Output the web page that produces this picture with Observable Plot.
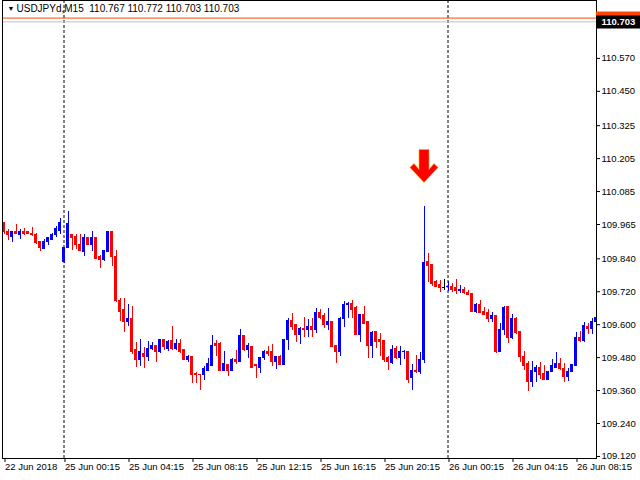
<!DOCTYPE html>
<html><head><meta charset="utf-8">
<script src="https://cdn.jsdelivr.net/npm/d3@7"></script>
<script src="https://cdn.jsdelivr.net/npm/@observablehq/plot@0.6"></script>
<style>
html,body{margin:0;padding:0;background:#fff;overflow:hidden;}
</style></head><body><div id="chart"></div>
<script>
const symbolName = "USDJPYd,M15";
const headerQuote = ["110.767", "110.772", "110.703", "110.703"];
const bidPrice = 110.703;
const askPrice = 110.717;

const open = [
109.969,109.939,109.921,109.939,109.928,109.939,109.936,109.932,109.928,109.900,
109.874,109.900,109.910,109.925,109.943,109.827,109.878,109.925,109.921,109.892,
109.866,109.914,109.892,109.914,109.845,109.837,109.866,109.936,109.848,109.688,
109.652,109.611,109.622,109.506,109.470,109.495,109.484,109.513,109.521,109.499,
109.543,109.510,109.539,109.510,109.528,109.506,109.473,109.481,109.422,109.418,
109.415,109.433,109.448,109.528,109.528,109.433,109.452,109.433,109.473,109.463,
109.557,109.506,109.517,109.452,109.444,109.477,109.499,109.499,109.463,109.481,
109.452,109.543,109.615,109.600,109.564,109.586,109.579,109.593,109.579,109.644,
109.630,109.600,109.611,109.521,109.499,109.622,109.670,109.677,109.659,109.564,
109.634,109.608,109.521,109.572,109.543,109.539,109.477,109.459,109.510,109.477,
109.499,109.502,109.404,109.433,109.426,109.470,109.827,109.816,109.754,109.743,
109.734,109.736,109.739,109.732,109.721,109.725,109.714,109.710,109.648,109.670,
109.648,109.644,109.619,109.630,109.502,109.579,109.663,109.550,109.622,109.572,
109.484,109.455,109.393,109.426,109.444,109.422,109.397,109.429,109.444,109.455,
109.440,109.411,109.429,109.448,109.553,109.539,109.593,109.586,109.608];

const high = [
109.973,109.947,109.939,109.965,109.947,109.951,109.939,109.954,109.932,109.903,
109.910,109.918,109.932,109.958,109.987,109.881,110.012,109.928,109.928,109.928,
109.928,109.918,109.939,109.918,109.852,109.870,109.939,109.936,109.870,109.696,
109.696,109.673,109.666,109.536,109.546,109.517,109.539,109.536,109.524,109.543,
109.546,109.543,109.593,109.546,109.546,109.506,109.488,109.481,109.426,109.418,
109.448,109.477,109.561,109.543,109.536,109.502,109.455,109.477,109.506,109.583,
109.557,109.532,109.517,109.455,109.481,109.506,109.521,109.528,109.484,109.488,
109.546,109.622,109.641,109.600,109.590,109.626,109.619,109.622,109.659,109.655,
109.641,109.659,109.611,109.521,109.626,109.685,109.681,109.688,109.666,109.637,
109.666,109.608,109.575,109.572,109.568,109.539,109.484,109.524,109.521,109.521,
109.506,109.502,109.455,109.488,109.499,110.030,109.859,109.816,109.761,109.761,
109.765,109.758,109.750,109.765,109.743,109.736,109.725,109.710,109.677,109.688,
109.663,109.655,109.644,109.630,109.604,109.666,109.666,109.637,109.626,109.572,
109.502,109.466,109.466,109.452,109.463,109.452,109.429,109.473,109.499,109.477,
109.459,109.440,109.455,109.572,109.575,109.608,109.604,109.622,109.681];

const low = [
109.928,109.907,109.900,109.932,109.910,109.925,109.928,109.921,109.892,109.866,
109.874,109.889,109.907,109.918,109.928,109.823,109.878,109.870,109.874,109.866,
109.848,109.889,109.866,109.837,109.804,109.830,109.866,109.812,109.681,109.611,
109.572,109.593,109.491,109.444,109.448,109.440,109.466,109.506,109.463,109.495,
109.506,109.502,109.506,109.506,109.495,109.470,109.463,109.386,109.386,109.360,
109.397,109.429,109.448,109.484,109.429,109.429,109.411,109.433,109.455,109.463,
109.502,109.477,109.444,109.404,109.422,109.470,109.484,109.448,109.437,109.452,
109.452,109.506,109.579,109.536,109.528,109.553,109.553,109.553,109.568,109.619,
109.586,109.579,109.517,109.459,109.484,109.590,109.622,109.622,109.561,109.536,
109.600,109.477,109.477,109.513,109.484,109.463,109.433,109.455,109.473,109.452,
109.473,109.386,109.360,109.422,109.418,109.459,109.754,109.739,109.739,109.718,
109.725,109.721,109.718,109.710,109.714,109.710,109.707,109.648,109.641,109.641,
109.637,109.608,109.608,109.495,109.502,109.561,109.532,109.546,109.564,109.463,
109.433,109.357,109.371,109.389,109.400,109.397,109.397,109.426,109.444,109.433,
109.389,109.393,109.426,109.448,109.536,109.536,109.564,109.564,109.597];

const close = [
109.936,109.925,109.936,109.932,109.939,109.932,109.932,109.925,109.896,109.878,
109.903,109.914,109.928,109.947,109.969,109.881,109.965,109.914,109.889,109.870,
109.914,109.892,109.914,109.841,109.837,109.870,109.936,109.848,109.685,109.648,
109.611,109.622,109.502,109.473,109.499,109.481,109.513,109.521,109.502,109.543,
109.517,109.536,109.510,109.528,109.499,109.473,109.481,109.418,109.415,109.415,
109.437,109.455,109.524,109.521,109.433,109.455,109.433,109.473,109.463,109.557,
109.506,109.521,109.444,109.448,109.477,109.499,109.495,109.463,109.484,109.452,
109.546,109.615,109.593,109.561,109.586,109.579,109.593,109.579,109.644,109.626,
109.600,109.611,109.517,109.499,109.622,109.673,109.677,109.655,109.564,109.634,
109.604,109.521,109.568,109.536,109.536,109.473,109.463,109.506,109.477,109.502,
109.502,109.400,109.433,109.426,109.470,109.823,109.812,109.750,109.739,109.732,
109.734,109.739,109.728,109.721,109.725,109.714,109.707,109.648,109.670,109.641,
109.637,109.619,109.630,109.502,109.579,109.659,109.550,109.619,109.568,109.481,
109.448,109.393,109.433,109.444,109.415,109.397,109.429,109.448,109.455,109.437,
109.411,109.429,109.452,109.553,109.539,109.597,109.586,109.611,109.626];

const daySeparators = [15, 111];
const timeTickIdx = [0, 15, 31, 47, 63, 79, 95, 111, 127, 143];
const timeTickLabels = ["22 Jun 2018", "25 Jun 00:15", "25 Jun 04:15", "25 Jun 08:15", "25 Jun 12:15",
  "25 Jun 16:15", "25 Jun 20:15", "26 Jun 00:15", "26 Jun 04:15", "26 Jun 08:15"];
const priceTicks = [110.570, 110.450, 110.325, 110.205, 110.085, 109.965, 109.840, 109.720,
  109.600, 109.480, 109.360, 109.240, 109.120];
const arrowIdx = [105];
const arrowPrice = [110.18];

const candles = open.map((o, i) => ({i, o, h: high[i], l: low[i], c: close[i]}));
const col = d => d.c > d.o ? "#0000ff" : d.c < d.o ? "#ff0000" : "#000000";
const arrows = arrowIdx.map((i, k) => ({i, p: arrowPrice[k]}));

const xMin = -0.375, xMax = 148.125;
const arrowSymbol = {
  draw(ctx) {
    ctx.moveTo(-5, -16); ctx.lineTo(5, -16); ctx.lineTo(5, 4); ctx.lineTo(10, -2);
    ctx.lineTo(14, 2); ctx.lineTo(0, 17); ctx.lineTo(-14, 2); ctx.lineTo(-10, -2);
    ctx.lineTo(-5, 4); ctx.closePath();
  }
};

const chart = Plot.plot({
  width: 640, height: 480,
  marginLeft: 2, marginRight: 44, marginTop: 0, marginBottom: 22,
  x: {domain: [xMin, xMax], label: null, axis: null},
  y: {domain: [109.1125, 110.781], label: null, axis: null},
  style: {fontFamily: "'Liberation Sans', Arial, sans-serif", fontSize: "9.5px", background: "#ffffff", color: "#000"},
  marks: [
    Plot.ruleX(daySeparators, {x: d => d, stroke: "#000", strokeDasharray: "3,2"}),
    Plot.ruleY([askPrice], {stroke: "#ff4500", strokeWidth: 1}),
    Plot.ruleY([bidPrice], {stroke: "#c0c0c0", strokeWidth: 1}),
    Plot.ruleX(candles, {x: "i", y1: "l", y2: "h", stroke: col, clip: true, shapeRendering: "crispEdges"}),
    Plot.rect(candles, {x1: d => d.i - 0.375, x2: d => d.i + 0.375, y1: "o", y2: "c", fill: col,
      insetTop: -0.5, insetBottom: -0.5, clip: true, shapeRendering: "crispEdges"}),
    Plot.dot(arrows, {x: "i", y: "p", symbol: arrowSymbol, r: 10, fill: "#ff0000", stroke: "#ffb000", strokeWidth: 0.6}),
    Plot.frame({stroke: "#000"}),
    Plot.axisX(timeTickIdx, {tickFormat: d => timeTickLabels[timeTickIdx.indexOf(d)], textAnchor: "start",
      tickSize: 4, tickPadding: 1, dx: 1, fontSize: 9.5, label: null}),
    Plot.axisY(priceTicks, {anchor: "right", tickFormat: d => d.toFixed(3), tickSize: 3, tickPadding: 2,
      fontSize: 9.5, label: null}),
    Plot.ruleY([askPrice], {x1: xMax, x2: xMax + 12, stroke: "#ff4500", strokeWidth: 13}),
    Plot.ruleY([bidPrice], {x1: xMax, x2: xMax + 12, stroke: "#000", strokeWidth: 13}),
    Plot.text([bidPrice], {y: d => d, frameAnchor: "right", dx: 5, textAnchor: "start", fill: "#fff",
      text: d => d.toFixed(3), fontWeight: "bold", fontSize: 9.5}),
    Plot.text(["\u25BC"], {frameAnchor: "top-left", dx: 5, dy: 6, lineAnchor: "top", textAnchor: "start", fontSize: 7, fill: "#000"}),
    Plot.text([`${symbolName}  ${headerQuote.join(" ")}`], {frameAnchor: "top-left", dx: 14, dy: 4,
      lineAnchor: "top", textAnchor: "start", fontSize: 10, fill: "#000"})
  ]
});
document.getElementById("chart").appendChild(chart);
</script>
</body></html>
